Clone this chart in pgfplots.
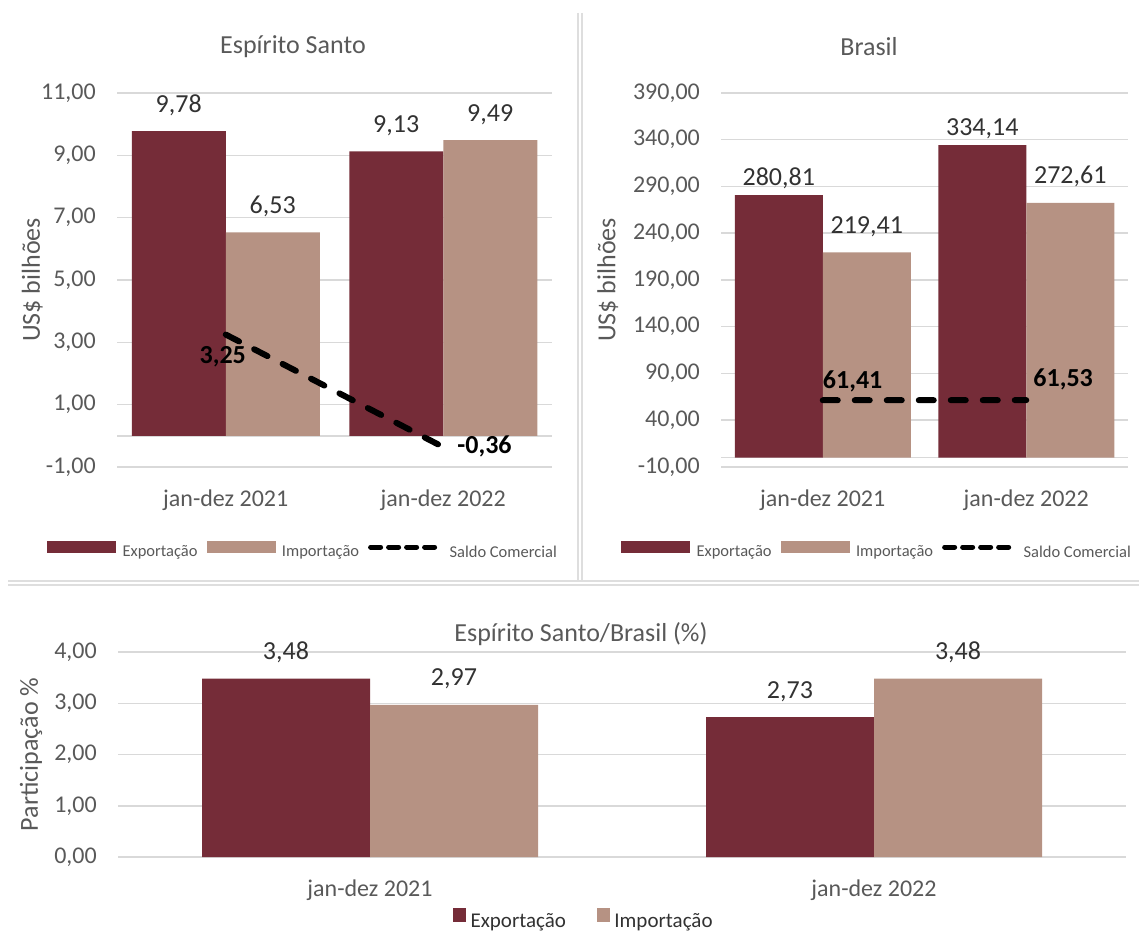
\documentclass[border=0pt]{standalone}
\usepackage{pgfplots}
\pgfplotsset{compat=1.18}
\usepackage{fontspec}
\setmainfont{Carlito}
\definecolor{expc}{RGB}{117,44,56}
\definecolor{impc}{RGB}{182,146,131}
\definecolor{gridc}{RGB}{217,217,217}
\definecolor{sepc}{RGB}{222,222,222}
\definecolor{tickc}{RGB}{89,89,89}
\definecolor{labc}{RGB}{50,50,50}
\newcommand{\fs}[1]{\fontsize{#1}{#1}\selectfont}
\pgfplotsset{
  common/.style={
    scale only axis,
    anchor=south west,
    xmin=-0.5, xmax=1.5,
    xtick={0,1},
    xticklabels={jan-dez 2021, jan-dez 2022},
    axis line style={draw=none},
    major tick style={draw=none},
    minor tick style={draw=none},
    ymajorgrids,
    major grid style={gridc, line width=1.5pt},
    /pgf/number format/assume math mode=true,
    /pgf/number format/fixed,
    /pgf/number format/fixed zerofill,
    /pgf/number format/precision=2,
    /pgf/number format/use comma,
    /pgf/number format/1000 sep={},
    tick label style={font=\fs{24}, text=tickc},
    yticklabel style={anchor=east, inner sep=0pt, xshift=-21pt},
    xticklabel style={anchor=north, inner sep=0pt, yshift=-23pt},
    ylabel style={anchor=center, font=\fs{26}, text=tickc},
    every node near coord/.append style={font=\fs{26}, text=labc, anchor=base, inner sep=0pt, yshift=19pt},
    legend cell align=left,
  },
  toplegend/.style={
    legend columns=3,
    legend style={draw=none, fill=none, inner sep=0pt, anchor=west,
      font=\fs{16.5}, text=tickc, nodes={inner sep=0pt},
      /tikz/every odd column/.append style={column sep=7pt},
      /tikz/every even column/.append style={column sep=9pt}},
  },
  barimg/.style={legend image code/.code={\fill[#1] (0pt,-0.5pt) rectangle (68pt,10.5pt);}},
  lineimg/.style={legend image code/.code={\draw[black, line width=5pt, line cap=round, dash pattern=on 10pt off 8pt] (2.5pt,5pt) -- (72pt,5pt);}},
}
\begin{document}
\begin{tikzpicture}
\useasboundingbox (0pt,0pt) rectangle (1139pt,932pt);
% panel separators
\draw[sepc, line width=1.3pt] (578pt,919pt) -- (578pt,351pt);
\draw[sepc, line width=1.3pt] (582pt,919pt) -- (582pt,351pt);
\draw[sepc, line width=1.3pt] (8pt,351pt) -- (1139pt,351pt);
\draw[sepc, line width=1.3pt] (8pt,347pt) -- (1139pt,347pt);
% titles
\node[font=\fs{26}, text=tickc] at (293pt,885pt) {Espírito Santo};
\node[font=\fs{26}, text=tickc] at (869pt,885pt) {Brasil};
\node[font=\fs{26}, text=tickc] at (581pt,298pt) {Espírito Santo/Brasil (\%)};

% ---------- Espirito Santo ----------
\begin{axis}[common, toplegend,
  at={(117pt,465pt)}, width=435pt, height=374pt,
  ymin=-1, ymax=11, ytick={-1,1,...,11},
  extra y ticks={0}, extra y tick labels={},
  ylabel={US\$ bilhões},
  ylabel style={at={(axis description cs:-0.195,0.5)}},
  legend style={at={(axis description cs:-0.161,-0.222)}},
]
\addplot[ybar, bar width=94pt, bar shift=-47pt, fill=expc, draw=none, nodes near coords, forget plot,
  every node near coord/.append style={xshift=-47pt}]
  coordinates {(0,9.78) (1,9.13)};
\addplot[ybar, bar width=94pt, bar shift=47pt, fill=impc, draw=none, nodes near coords, forget plot,
  every node near coord/.append style={xshift=47pt}]
  coordinates {(0,6.53) (1,9.49)};
\addplot[black, line width=6pt, line cap=round, dash pattern=on 15pt off 17pt, mark=none, forget plot]
  coordinates {(0,3.25) (1,-0.36)};
\node[font=\bfseries\fs{26}, text=black, inner sep=0pt, anchor=north, xshift=-3pt, yshift=-12pt] at (axis cs:0,3.25) {3,25};
\node[font=\bfseries\fs{26}, text=black, inner sep=0pt, anchor=west, xshift=14pt, yshift=1pt] at (axis cs:1,-0.36) {-0,36};
\addlegendimage{barimg={expc}}
\addlegendentry{Exportação}
\addlegendimage{barimg={impc}}
\addlegendentry{Importação}
\addlegendimage{lineimg}
\addlegendentry{Saldo Comercial}
\end{axis}

% ---------- Brasil ----------
\begin{axis}[common, toplegend,
  at={(721pt,465pt)}, width=407pt, height=374pt,
  ymin=-10, ymax=390, ytick={-10,40,...,390},
  extra y ticks={0}, extra y tick labels={},
  ylabel={US\$ bilhões},
  ylabel style={at={(axis description cs:-0.278,0.5)}},
  legend style={at={(axis description cs:-0.2457,-0.222)}},
]
\addplot[ybar, bar width=88pt, bar shift=-44pt, fill=expc, draw=none, nodes near coords, forget plot,
  every node near coord/.append style={xshift=-44pt, yshift=-9pt}]
  coordinates {(0,280.81) (1,334.14)};
\addplot[ybar, bar width=88pt, bar shift=44pt, fill=impc, draw=none, nodes near coords, forget plot,
  every node near coord/.append style={xshift=44pt}]
  coordinates {(0,219.41) (1,272.61)};
\addplot[black, line width=6pt, line cap=round, dash pattern=on 15pt off 17pt, mark=none, forget plot]
  coordinates {(0,61.41) (1,61.53)};
\node[font=\bfseries\fs{26}, text=black, inner sep=0pt, anchor=base west, yshift=12pt] at (axis cs:0,61.41) {61,41};
\node[font=\bfseries\fs{26}, text=black, inner sep=0pt, anchor=base west, xshift=7pt, yshift=14pt] at (axis cs:1,61.53) {61,53};
\addlegendimage{barimg={expc}}
\addlegendentry{Exportação}
\addlegendimage{barimg={impc}}
\addlegendentry{Importação}
\addlegendimage{lineimg}
\addlegendentry{Saldo Comercial}
\end{axis}

% ---------- Participacao ----------
\begin{axis}[common,
  at={(118pt,75pt)}, width=1008pt, height=205pt,
  ymin=0, ymax=4, ytick={0,1,...,4},
  ylabel={Participação \%},
  ylabel style={at={(axis description cs:-0.0863,0.5)}},
  legend columns=2,
  legend style={draw=none, fill=none, inner sep=0pt, anchor=south west,
    at={(axis description cs:0.3323,-0.352)},
    font=\fs{21}, text=labc, nodes={inner sep=0pt},
    /tikz/every odd column/.append style={column sep=5pt},
    /tikz/every even column/.append style={column sep=31pt}},
]
\addplot[ybar, bar width=168pt, bar shift=-84pt, fill=expc, draw=none, nodes near coords, forget plot,
  every node near coord/.append style={xshift=-84pt}]
  coordinates {(0,3.48) (1,2.73)};
\addplot[ybar, bar width=168pt, bar shift=84pt, fill=impc, draw=none, nodes near coords, forget plot,
  every node near coord/.append style={xshift=84pt}]
  coordinates {(0,2.97) (1,3.48)};
\addlegendimage{legend image code/.code={\fill[expc] (0pt,0pt) rectangle (12pt,13pt);}}
\addlegendentry{Exportação}
\addlegendimage{legend image code/.code={\fill[impc] (0pt,0pt) rectangle (12pt,13pt);}}
\addlegendentry{Importação}
\end{axis}
\end{tikzpicture}
\end{document}
